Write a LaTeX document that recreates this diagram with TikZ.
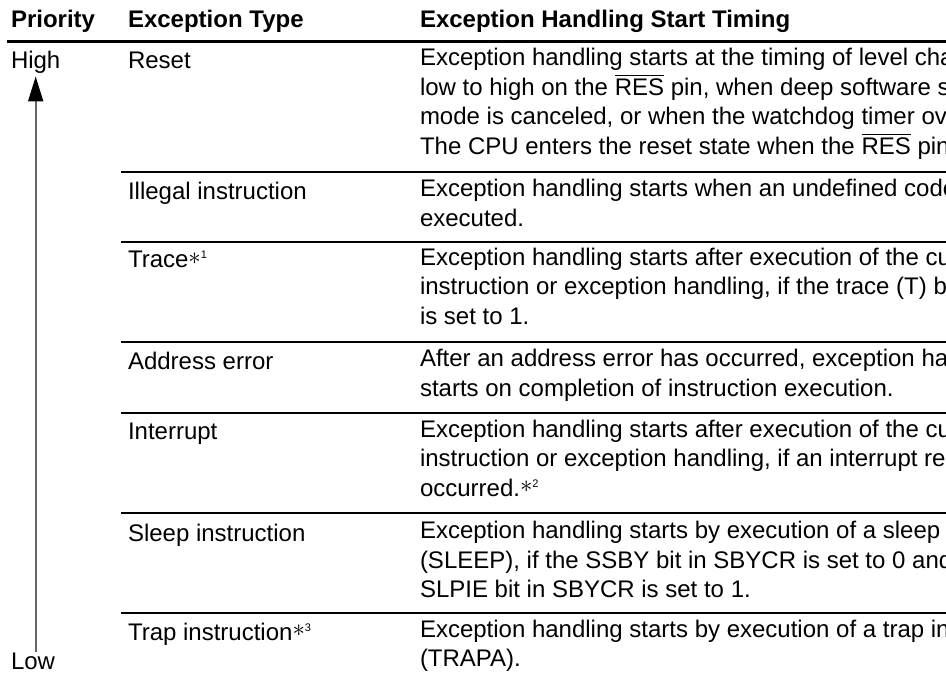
\documentclass[tikz,border=0pt]{standalone}
\usepackage{fontspec}
\setmainfont{Liberation Sans}
\usetikzlibrary{arrows.meta}
\newcommand\ovbar[1]{\setbox0=\hbox{#1}\rlap{\rule[19pt]{\wd0}{1pt}}\box0\relax}
\newcommand\fnmark[1]{\raisebox{3.5pt}{$\ast$}\raisebox{9pt}{\fontsize{11}{11}\selectfont #1}}
\begin{document}
\begin{tikzpicture}[x=1pt,y=-1pt,
  every node/.style={inner sep=0pt, outer sep=0pt, font=\fontsize{24}{29.4}\selectfont},
  cell/.style={anchor=north west, align=left, yshift=20pt, execute at begin node={\rule{0pt}{20pt}}},
  head/.style={anchor=base west, font=\fontsize{24}{29.4}\selectfont\bfseries},
  hrule/.style={line width=3pt},
  rowrule/.style={line width=1.8pt},
  prio/.style={line width=2pt, draw=black!60, -{Triangle[length=25pt,width=15pt,color=black]}, shorten >=3pt}]
\useasboundingbox (0,0) rectangle (946,676);
\clip (0,0) rectangle (946,676);
% header
\node[head] (hP) at (11,28) {Priority};
\node[head] (hT) at (128,28) {Exception Type};
\node[head] (hS) at (420,28) {Exception Handling Start Timing};
\coordinate (hl) at (7,41.5);
\coordinate (hr) at (946,41.5);
\draw[hrule] (hl) -- (hr);
% priority
\node[anchor=base west] (High) at (11,68.5) {High};
\node[anchor=base west] (Low) at (11,669) {Low};
\draw[prio] (High.south |- Low.north) -- (High.south);
% rows
\node[cell] (t1) at (128,68.5) {Reset};
\node[cell] (d1) at (420,68.5) {Exception handling starts at the timing of level cha\\low to high on the \ovbar{RES} pin, when deep software s\\mode is canceled, or when the watchdog timer ov\\The CPU enters the reset state when the \ovbar{RES} pin};
\node[cell] (t2) at (128,199.5) {Illegal instruction};
\node[cell] (d2) at (420,199.5) {Exception handling starts when an undefined code\\executed.};
\node[cell] (t3) at (128,268) {Trace\fnmark{1}};
\node[cell] (d3) at (420,268) {Exception handling starts after execution of the cu\\instruction or exception handling, if the trace (T) b\\is set to 1.};
\node[cell] (t4) at (128,369.5) {Address error};
\node[cell] (d4) at (420,369.5) {After an address error has occurred, exception ha\\starts on completion of instruction execution.};
\node[cell] (t5) at (128,440) {Interrupt};
\node[cell] (d5) at (420,440) {Exception handling starts after execution of the cu\\instruction or exception handling, if an interrupt re\\occurred.\fnmark{2}};
\node[cell] (t6) at (128,541.5) {Sleep instruction};
\node[cell] (d6) at (420,541.5) {Exception handling starts by execution of a sleep\\(SLEEP), if the SSBY bit in SBYCR is set to 0 and\\SLPIE bit in SBYCR is set to 1.};
\node[cell] (t7) at (128,640) {Trap instruction\fnmark{3}};
\node[cell] (d7) at (420,640) {Exception handling starts by execution of a trap in\\(TRAPA).};
% row rules
\foreach \y/\n in {172/a,242/b,342/c,413/d,513/e,613/f}{
  \coordinate (rl\n) at (121,\y);
  \coordinate (rr\n) at (946,\y);
  \draw[rowrule] (rl\n) -- (rr\n);
}
\end{tikzpicture}
\end{document}
